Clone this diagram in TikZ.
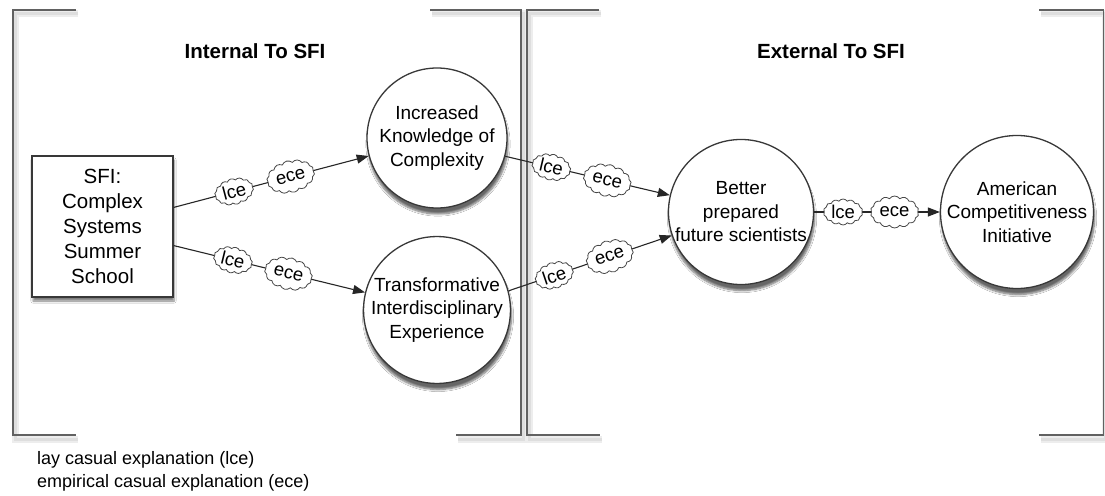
\documentclass[tikz,border=0pt]{standalone}
\usepackage{fontspec}
\setmainfont{Liberation Sans}
\usetikzlibrary{shapes.symbols,arrows.meta,shadows.blur}
\begin{document}
\begin{tikzpicture}[x=1pt,y=-1pt,
  bracket/.style={draw=black!62, line width=1.6pt},
  brshadow/.style={draw=black!7, line width=7pt},
  brshadowb/.style={draw=black!13, line width=3pt},
  concept/.style={circle, draw=black!78, line width=1.3pt, fill=white,
    minimum size=140pt, inner sep=0pt, align=center,
    font=\fontsize{19}{23.5}\selectfont,
    blur shadow={shadow xshift=1pt, shadow yshift=-6pt, shadow blur steps=7, shadow opacity=60}},
  sfibox/.style={rectangle, draw=black!78, line width=1.3pt, fill=white,
    minimum width=141pt, minimum height=141pt, inner sep=0pt, align=center,
    font=\fontsize{20.5}{25}\selectfont,
    blur shadow={shadow xshift=1pt, shadow yshift=-4pt, shadow blur steps=6, shadow opacity=50}},
  conn/.style={draw=black!85, line width=1.1pt, -{Triangle[length=12pt,width=9pt]}},
  ecloud/.style={cloud, draw=black!72, line width=0.8pt, fill=white, cloud puffs=14,
    cloud puff arc=110, aspect=1.7, inner xsep=1.5pt, inner ysep=1pt, sloped,
    font=\fontsize{18.5}{18.5}\selectfont},
  titletext/.style={font=\bfseries\fontsize{20.5}{24}\selectfont, anchor=base},
  legendtext/.style={font=\fontsize{18}{22}\selectfont, anchor=base west, inner sep=0pt}
]
\useasboundingbox (0,0) rectangle (1105,495);
\fill[white] (0,0) rectangle (1105,495);

% bracket shadows
\begin{scope}[shift={(2,4)}]
  \draw[brshadow] (76,10) -- (13,10) -- (13,435) -- (76,435);
  \draw[brshadowb] (76,10) -- (13,10) -- (13,435) -- (76,435);
  \draw[brshadow] (430,10) -- (521,10) -- (521,435) -- (456,435);
  \draw[brshadowb] (430,10) -- (521,10) -- (521,435) -- (456,435);
  \draw[brshadow] (599,10) -- (527,10) -- (527,435) -- (600,435);
  \draw[brshadowb] (599,10) -- (527,10) -- (527,435) -- (600,435);
  \draw[brshadow] (1039,10) -- (1103,10) -- (1103,435) -- (1039,435);
  \draw[brshadowb] (1039,10) -- (1103,10) -- (1103,435) -- (1039,435);
\end{scope}

% brackets
\draw[bracket] (76,10) -- (13,10) -- (13,435) -- (76,435);
\draw[bracket] (430,10) -- (521,10) -- (521,435) -- (456,435);
\draw[bracket] (599,10) -- (527,10) -- (527,435) -- (600,435);
\draw[bracket] (1039,10) -- (1103.5,10) -- (1103.5,435) -- (1039,435);

% titles
\node[titletext] (tint) at (255,59) {Internal To SFI};
\node[titletext] (text) at (831,59) {External To SFI};

% nodes
\node[sfibox] (sfi) at (102.5,226.5) {SFI:\\Complex\\Systems\\Summer\\School};
\node[concept] (ikc) at (437,138) {Increased\\Knowledge of\\Complexity};
\node[concept] (tie) at (437,310) {Transformative\\Interdisciplinary\\Experience};
\node[concept] (bpf) at (741,212) {Better\\prepared\\future scientists};
\node[concept] (aci) at (1017,212) {American\\Competitiveness\\Initiative};

% connectors
\draw[conn] (sfi.15) -- node[ecloud,pos=0.31] (c1) {lce} node[ecloud,pos=0.6] (c2) {ece} (ikc);
\draw[conn] (sfi.-15) -- node[ecloud,pos=0.31] (c3) {lce} node[ecloud,pos=0.6] (c4) {ece} (tie);
\draw[conn] (ikc.-15) -- node[ecloud,pos=0.28] (c5) {lce} node[ecloud,pos=0.62] (c6) {ece} (bpf);
\draw[conn] (tie.15) -- node[ecloud,pos=0.28] (c7) {lce} node[ecloud,pos=0.62] (c8) {ece} (bpf);
\draw[conn] (bpf) -- node[ecloud,pos=0.23] (c9) {lce} node[ecloud,pos=0.64] (c10) {ece} (aci);

% legend
\node[legendtext] (leg1) at (37,464) {lay casual explanation (lce)};
\node[legendtext] (leg2) at (37,487) {empirical casual explanation (ece)};
\end{tikzpicture}
\end{document}
